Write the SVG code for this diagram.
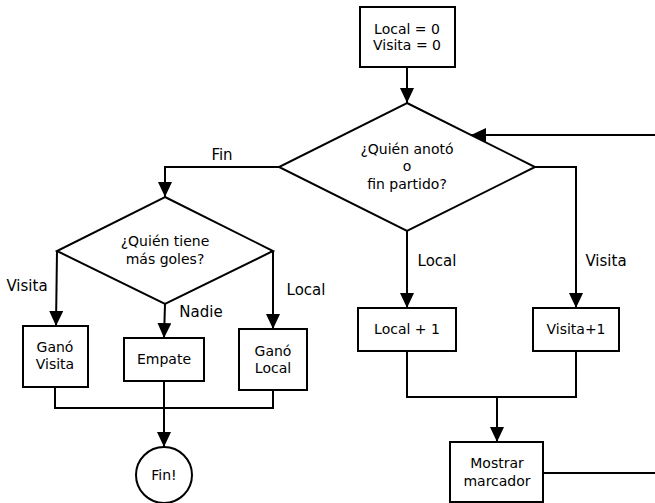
<svg xmlns="http://www.w3.org/2000/svg" width="655" height="503" viewBox="0 0 655 503">
<style>
.s{fill:#fff;stroke:#000;stroke-width:2}
.c{fill:none;stroke:#000;stroke-width:2}
text{font-family:"DejaVu Sans","Liberation Sans",sans-serif;fill:#000;text-anchor:middle}
.t{font-size:14px}
.l{font-size:15px}
</style>
<defs>
<marker id="ah" markerUnits="userSpaceOnUse" markerWidth="15" markerHeight="14" refX="15" refY="7" orient="auto">
<path d="M0,0 L15,7 L0,14 z" fill="#000"/>
</marker>
</defs>
<rect width="655" height="503" fill="#fff"/>
<g id="connectors">
<path class="c" d="M407,67 V103" marker-end="url(#ah)"/>
<path class="c" d="M655,135 H471" marker-end="url(#ah)"/>
<path class="c" d="M279,167 H165 V197" marker-end="url(#ah)"/>
<path class="c" d="M535,167 H576 V308" marker-end="url(#ah)"/>
<path class="c" d="M407,231 V308" marker-end="url(#ah)"/>
<path class="c" d="M407,351 V397 H576 V351"/>
<path class="c" d="M497,397 V442" marker-end="url(#ah)"/>
<path class="c" d="M543,473 H655"/>
<path class="c" d="M57,251 L56,326" marker-end="url(#ah)"/>
<path class="c" d="M165,304 L164,338" marker-end="url(#ah)"/>
<path class="c" d="M273,251 V329" marker-end="url(#ah)"/>
<path class="c" d="M55,387 V408 H273 V390"/>
<path class="c" d="M164,381 V447" marker-end="url(#ah)"/>
<text class="l" x="222" y="160">Fin</text>
<text class="l" x="437" y="266">Local</text>
<text class="l" x="606" y="266">Visita</text>
<text class="l" x="27" y="291">Visita</text>
<text class="l" x="306" y="295">Local</text>
<text class="l" x="201" y="317">Nadie</text>
</g>
<g id="init">
<rect class="s" x="360" y="7" width="95" height="60"/>
<text class="t" x="407" y="34">Local = 0</text>
<text class="t" x="407" y="50">Visita = 0</text>
</g>
<g id="quien-anoto">
<polygon class="s" points="407,103 535,167 407,231 279,167"/>
<text class="t" x="407" y="154">¿Quién anotó</text>
<text class="t" x="407" y="171">o</text>
<text class="t" x="407" y="189">fin partido?</text>
</g>
<g id="local-mas-1">
<rect class="s" x="358" y="308" width="98" height="43"/>
<text class="t" x="407" y="334">Local + 1</text>
</g>
<g id="visita-mas-1">
<rect class="s" x="533" y="308" width="86" height="43"/>
<text class="t" x="576" y="334">Visita+1</text>
</g>
<g id="mostrar">
<rect class="s" x="450" y="442" width="93" height="60"/>
<text class="t" x="497" y="468">Mostrar</text>
<text class="t" x="497" y="486">marcador</text>
</g>
<g id="mas-goles">
<polygon class="s" points="165,197 273,251 165,304 57,251"/>
<text class="t" x="165" y="246">¿Quién tiene</text>
<text class="t" x="165" y="264">más goles?</text>
</g>
<g id="gano-visita">
<rect class="s" x="23" y="326" width="65" height="61"/>
<text class="t" x="55" y="352">Ganó</text>
<text class="t" x="55" y="369">Visita</text>
</g>
<g id="empate">
<rect class="s" x="124" y="338" width="80" height="43"/>
<text class="t" x="164" y="364">Empate</text>
</g>
<g id="gano-local">
<rect class="s" x="239" y="329" width="68" height="61"/>
<text class="t" x="273" y="356">Ganó</text>
<text class="t" x="273" y="373">Local</text>
</g>
<g id="fin">
<circle class="s" cx="164" cy="475" r="28"/>
<text class="t" x="164" y="480">Fin!</text>
</g>
</svg>
